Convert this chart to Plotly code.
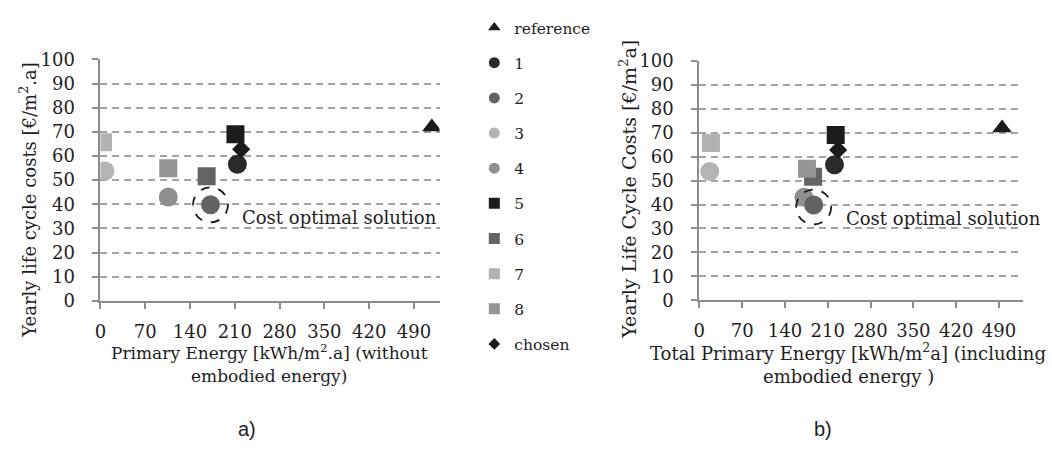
import plotly.graph_objects as go

# Series shown in both panels
SERIES = ["reference", "1", "2", "3", "4", "5", "6", "7", "8", "chosen"]
SYMBOLS = ["triangle-up", "circle", "circle", "circle", "circle",
           "square", "square", "square", "square", "diamond"]
COLORS = ["#1c1a1a", "#2a2a2a", "#636363", "#b4b4b4", "#8f8f8f",
          "#1e1b1b", "#646464", "#b2b2b2", "#959595", "#1a1a1a"]
SIZES = [17, 19, 19, 19, 19, 18, 18, 18, 18, 14]

# Yearly life cycle costs [€/m²a]
COSTS = [72.0, 56.6, 39.8, 53.8, 43.0, 69.0, 51.6, 65.7, 54.9, 62.8]
# a) primary energy without embodied energy [kWh/m²a]
PE_OPERATIONAL = [518, 214, 172, 7, 106, 211, 166, 4, 106, 220]
# b) total primary energy including embodied energy [kWh/m²a]
PE_TOTAL = [495, 221, 187, 17, 171, 223, 186, 19, 176, 227]

X_TICKS = [0, 70, 140, 210, 280, 350, 420, 490]
OPTIMAL = SERIES.index("2")

SERIF = "DejaVu Serif"
TEXT = "#1e1e1e"
AXIS = "#8c8c8c"

# drawing order (series 2 on top of series 4)
DRAW_ORDER = [0, 1, 3, 4, 2, 5, 6, 7, 8, 9]

fig = go.Figure()
for xs, xa, ya in [(PE_OPERATIONAL, "x", "y"), (PE_TOTAL, "x2", "y2")]:
    for i in DRAW_ORDER:
        fig.add_trace(go.Scatter(
            x=[xs[i]], y=[COSTS[i]], mode="markers", name=SERIES[i],
            marker=dict(symbol=SYMBOLS[i], size=SIZES[i], color=COLORS[i],
                        line=dict(width=0)),
            xaxis=xa, yaxis=ya, showlegend=False, hoverinfo="x+y+name"))

# legend entries with smaller symbols
for i, name in enumerate(SERIES):
    fig.add_trace(go.Scatter(
        x=[None], y=[None], mode="markers", name=name, legendgroup=name,
        legendrank=i + 1,
        marker=dict(symbol=SYMBOLS[i], size=11 if SYMBOLS[i] != "diamond" else 9,
                    color=COLORS[i], line=dict(width=0)),
        xaxis="x", yaxis="y", showlegend=True))

xaxis_style = dict(
    range=[0, 530], tickvals=X_TICKS, ticks="outside", ticklen=6, tickwidth=2,
    tickcolor=AXIS, showline=True, linecolor=AXIS, linewidth=2,
    showgrid=False, zeroline=False, ticklabelstandoff=7,
    tickfont=dict(family=SERIF, size=18, color=TEXT))
yaxis_style = dict(
    range=[0, 100], tick0=0, dtick=10, ticks="outside", ticklen=6, tickwidth=2,
    tickcolor=AXIS, showline=True, linecolor=AXIS, linewidth=2,
    showgrid=True, gridcolor="#a3a3a3", gridwidth=2, griddash="7px,5px",
    zeroline=False, ticklabelstandoff=14,
    tickfont=dict(family=SERIF, size=18, color=TEXT))

fig.update_layout(
    width=1052, height=455, margin=dict(l=0, r=0, t=0, b=0),
    paper_bgcolor="white", plot_bgcolor="white",
    xaxis=dict(domain=[95 / 1052, 436 / 1052], anchor="y", **xaxis_style),
    yaxis=dict(domain=[1 - 304 / 455, 1 - 50.7 / 455], anchor="x", **yaxis_style),
    xaxis2=dict(domain=[697.3 / 1052, 1023.3 / 1052], anchor="y2", **xaxis_style),
    yaxis2=dict(domain=[1 - 303.3 / 455, 1 - 52.3 / 455], anchor="x2", **yaxis_style),
    showlegend=True,
    legend=dict(x=471 / 1052, xanchor="left", y=1, yanchor="top",
                tracegroupgap=12, itemsizing="trace", bgcolor="rgba(0,0,0,0)",
                font=dict(family=SERIF, size=15.5, color=TEXT)),
)

# dashed ring marking the cost optimal solution
for xs, xr, yr, dy in [(PE_OPERATIONAL, "x", "y", 0), (PE_TOTAL, "x2", "y2", -2)]:
    fig.add_shape(type="circle", xref=xr, yref=yr,
                  xsizemode="pixel", ysizemode="pixel",
                  xanchor=xs[OPTIMAL], yanchor=COSTS[OPTIMAL],
                  x0=-17.5, x1=17.5, y0=-17.5 + dy, y1=17.5 + dy,
                  line=dict(color="#1a1a1a", width=1.8, dash="dash"))
    fig.add_annotation(x=xs[OPTIMAL], y=COSTS[OPTIMAL], xref=xr, yref=yr,
                       text="Cost optimal solution", showarrow=False,
                       xanchor="left", yanchor="middle", xshift=30, yshift=-13,
                       font=dict(family=SERIF, size=18, color=TEXT))


def paper_text(text, px, py, size, family=SERIF, angle=0):
    fig.add_annotation(x=px / 1052, y=1 - py / 455, xref="paper", yref="paper",
                       xanchor="center", yanchor="middle", text=text,
                       textangle=angle, showarrow=False,
                       font=dict(family=family, size=size, color=TEXT))


# axis titles
paper_text("Yearly life cycle costs [€/m<sup>2</sup>.a]", 22, 198, 18, angle=-90)
paper_text("Yearly Life Cycle Costs [€/m<sup>2</sup>a]", 626, 187, 19, angle=-90)
paper_text("Primary Energy [kWh/m<sup>2</sup>.a] (without", 265, 357, 17)
paper_text("embodied energy)", 265, 383, 17)
paper_text("Total Primary Energy [kWh/m<sup>2</sup>a] (including", 847, 357, 18)
paper_text("embodied energy )", 847, 383, 18)

# panel labels
paper_text("a)", 242, 438, 20, family="Liberation Sans")
paper_text("b)", 822, 438, 20, family="Liberation Sans")

fig.write_html("out.html")
